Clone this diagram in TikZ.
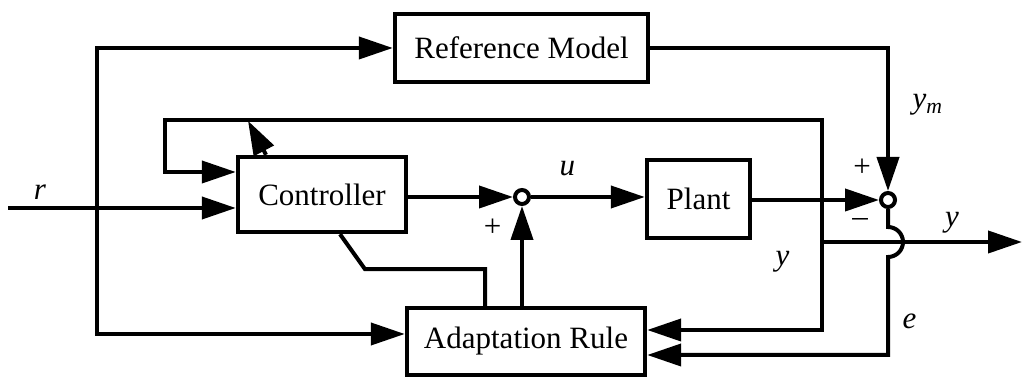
\documentclass[tikz,border=0pt]{standalone}
\usepackage{fontspec}
\setmainfont{Liberation Serif}
\usetikzlibrary{arrows.meta}
\tikzset{auto, >={Triangle[length=17pt,width=11pt]}, font=\fontsize{15.5}{18}\selectfont}
\tikzstyle{block} = [draw, fill=white, rectangle, line width=2.2pt, text centered, inner sep=0pt]
\tikzstyle{sum} = [draw, fill=white, circle, minimum size=7pt, inner sep=0pt]
\tikzstyle{input} = [coordinate]
\tikzstyle{output} = [coordinate]

\begin{document}
\begin{tikzpicture}[x=0.5pt, y=-0.5pt, line width=2pt]
    \useasboundingbox (0,0) rectangle (1027,378);
    \node [block, minimum width=126.5pt, minimum height=34pt] (refmodel) at (521.5,48) {Reference Model};
    \node [block, minimum width=84pt, minimum height=37.5pt] (ctrl) at (322,194.5) {Controller};
    \node [block, minimum width=51.5pt, minimum height=39pt] (plant) at (698.5,199) {Plant};
    \node [block, minimum width=119pt, minimum height=33.5pt] (adapt) at (526,341.5) {Adaptation Rule};
    \node [sum] (sum_u) at (522,197) {};
    \node [sum] (sum_e) at (888,200) {};
    \node [input] (input) at (8,208) {};
    \node [output] (output) at (1022,242) {};
    \coordinate (r_split) at (97,208);
    \coordinate (y_split) at (822,242);
    \coordinate (fb_corner) at (165,120);

    \draw [->] (input) -- node [pos=0.14] {\textit{r}} (ctrl.west |- input);
    \draw [->] (r_split) |- (refmodel.west);
    \draw [->] (r_split) |- ([yshift=3.75pt]adapt.west);
    \draw [->] (ctrl.east |- sum_u) -- (sum_u);
    \draw [->] (sum_u) -- node [pos=0.32, above=6pt] {\textit{u}} (plant.west |- sum_u);
    \draw [->] (adapt.north -| sum_u) -- node [pos=0.78, left=6pt] {+} (sum_u);
    \draw [->] (plant.east |- sum_e) -- (sum_e);
    \draw [->] (refmodel.east) -| node [pos=0.7, right=8pt] {\textit{y}\textsubscript{\textit{m}}} (sum_e);
    \node (plus_e) at ([xshift=-13pt,yshift=16pt]sum_e) {+};
    \node (minus_e) at ([xshift=-14pt,yshift=-11.5pt]sum_e) {–};

    % plant output y: out, back to the controller and to the adaptation rule
    \draw [->] (y_split) -- node [pos=0.65] {\textit{y}} (output);
    \draw [->] (y_split) |- (fb_corner) |- ([yshift=11.25pt]ctrl.west);
    \draw [->] (y_split) |- node [pos=0.11, left=12pt] {\textit{y}} ([yshift=5.75pt]adapt.east);

    % error e hops over the y line
    \draw [->] (sum_e) -- ([yshift=7.5pt]sum_e |- y_split) arc [start angle=90, end angle=-90, radius=7.5pt]
        |- node [pos=0.33, right=3pt] {\textit{e}} ([yshift=-6.75pt]adapt.east);

    % parameter update
    \draw ([xshift=-20.5pt]adapt.north) |- ([xshift=21.5pt,yshift=-17.5pt]ctrl.south) -- ([xshift=9pt]ctrl.south);
    \draw [->] ([xshift=-28pt]ctrl.north) -- ++(-9pt,17pt);
\end{tikzpicture}
\end{document}
